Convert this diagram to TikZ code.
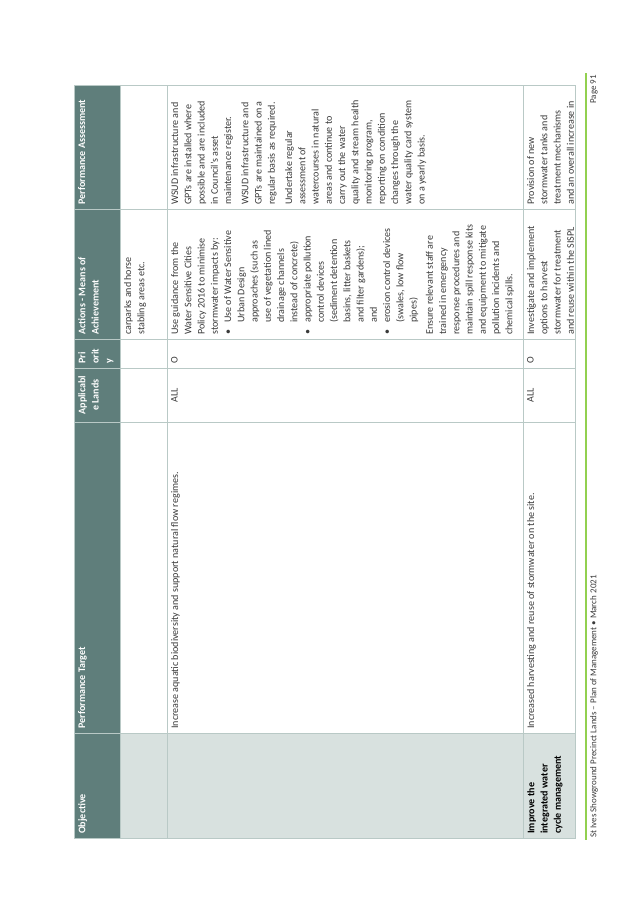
\documentclass[tikz,border=0pt]{standalone}
\usepackage{fontspec}
\setmainfont{Carlito}
\usepackage{tikz}

\definecolor{headteal}{HTML}{5F7E7B}
\definecolor{objfill}{HTML}{D8E1DF}
\definecolor{gridcol}{HTML}{B9C9C6}
\definecolor{bodytext}{HTML}{3A3A3A}
\definecolor{barGreen}{HTML}{92D050}

\tikzset{
	cell/.style={rotate=90, anchor=north west, inner sep=0pt, align=left,
		font=\fontsize{10.1}{13.3}\selectfont, text=bodytext},
	headcell/.style={cell, text=white, font=\bfseries\fontsize{10.1}{13.3}\selectfont},
	centcell/.style={cell, anchor=north, align=center},
}
\newcommand{\bul}{\makebox[12bp][l]{\textbullet}}
\newcommand{\ind}{\hspace*{12bp}}

\begin{document}
\begin{tikzpicture}[x=1bp,y=-1bp]
	\useasboundingbox (0,0) rectangle (638,900);
	% fills
	\fill[headteal] (74,85) rectangle (120,838);
	\fill[objfill] (120,733) rectangle (523,838);
	\fill[objfill] (523,733) rectangle (575,838);
	% grid
	\draw[gridcol, line width=0.8bp] (74,85) rectangle (575,838);
	\draw[gridcol, line width=0.8bp] (120,85) -- (120,838);
	\draw[gridcol, line width=0.8bp] (167,85) -- (167,838);
	\draw[gridcol, line width=0.8bp] (523,85) -- (523,838);
	\draw[gridcol, line width=0.8bp] (74,209) -- (575,209);
	\draw[gridcol, line width=0.8bp] (74,339) -- (575,339);
	\draw[gridcol, line width=0.8bp] (74,368) -- (575,368);
	\draw[gridcol, line width=0.8bp] (74,422) -- (575,422);
	\draw[gridcol, line width=0.8bp] (74,733) -- (575,733);

	% header
	\node[headcell] (hobj) at (78,834) {Objective};
	\node[headcell] (htarget) at (78,729) {Performance Target};
	\node[headcell, anchor=north, align=center] (happ) at (78,395) {Applicabl\\e Lands};
	\node[headcell] (hpri) at (78,364) {Pri\\orit\\y};
	\node[headcell] (hact) at (78,335) {Actions - Means of\\Achievement};
	\node[headcell] (hass) at (78,205) {Performance Assessment};

	% row one
	\node[cell] (actone) at (124,335) {carparks and horse\\stabling areas etc.};

	% row two
	\node[cell] (tartwo) at (171,729) {Increase aquatic biodiversity and support natural flow regimes.};
	\node[centcell] (apptwo) at (171,395) {ALL};
	\node[cell] (pritwo) at (171,364) {O};
	\node[cell] (acttwo) at (171,335) {Use guidance from the\\Water Sensitive Cities\\Policy 2016 to minimise\\stormwater impacts by:\\
		\bul Use of Water Sensitive\\\ind Urban Design\\\ind approaches (such as\\\ind use of vegetation lined\\\ind drainage channels\\\ind instead of concrete)\\
		\bul appropriate pollution\\\ind control devices\\\ind (sediment detention\\\ind basins, litter baskets\\\ind and filter gardens);\\\ind and\\
		\bul erosion control devices\\\ind (swales, low flow\\\ind pipes)\\[3bp]
		Ensure relevant staff are\\trained in emergency\\response procedures and\\maintain spill response kits\\and equipment to mitigate\\pollution incidents and\\chemical spills.};
	\node[cell] (asstwo) at (171,205) {WSUD infrastructure and\\GPTs are installed where\\possible and are included\\in Council's asset\\maintenance register.\\[4bp]
		WSUD infrastructure and\\GPTs are maintained on a\\regular basis as required.\\[4bp]
		Undertake regular\\assessment of\\watercourses in natural\\areas and continue to\\carry out the water\\quality and stream health\\monitoring program,\\reporting on condition\\changes through the\\water quality card system\\on a yearly basis.};

	% row three
	\node[cell, text=black, font=\bfseries\fontsize{10.1}{13.3}\selectfont] (objthree) at (527,834) {Improve the\\integrated water\\cycle management};
	\node[cell] (tarthree) at (527,729) {Increased harvesting and reuse of stormwater on the site.};
	\node[centcell] (appthree) at (527,395) {ALL};
	\node[cell] (prithree) at (527,364) {O};
	\node[cell] (actthree) at (527,335) {Investigate and implement\\options to harvest\\stormwater for treatment\\and reuse within the SISPL};
	\node[cell] (assthree) at (527,205) {Provision of new\\stormwater tanks and\\treatment mechanisms\\and an overall increase in};

	% footer
	\draw[barGreen, line width=2.5bp] (586,73) -- (586,840);
	\node[cell, font=\fontsize{9}{10}\selectfont] (foot) at (590,838) {St Ives Showground Precinct Lands -- Plan of Management \textbullet\ March 2021};
	\node[cell, font=\fontsize{9}{10}\selectfont, anchor=north east] (page) at (590,75) {Page 91};
\end{tikzpicture}
\end{document}
